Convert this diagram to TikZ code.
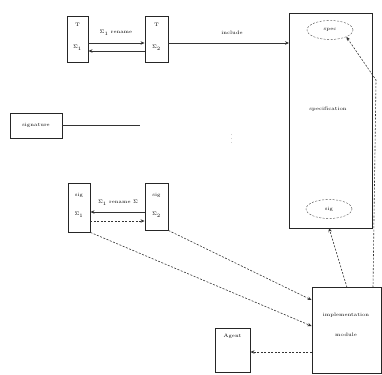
\documentclass[tikz,border=0pt]{standalone}
\usepackage{amsmath,amssymb}
\usepackage{tikz}
\usetikzlibrary{calc}
\usetikzlibrary{positioning, shapes.geometric, fit}
\usetikzlibrary{arrows.meta}

\begin{document}
\begin{tikzpicture}[x=1pt, y=-1pt,
    % Define styles for the boxes and their texts
    modbox/.style={rectangle, draw=black!85, line width=0.9pt, inner sep=0pt},
    lbl/.style={font=\tiny, inner sep=1pt},
    specell/.style={ellipse, draw=black!70, dash pattern=on 2pt off 1.5pt, minimum width=46pt, minimum height=19pt, inner sep=0pt, font=\tiny},
    % Define edge styles
    edge/.style={draw=black!80, line width=0.6pt, -{Stealth[length=4pt, width=3.5pt]}},
    dedge/.style={edge, dash pattern=on 2pt off 1.5pt}
]

    % --- Canvas ---
    \useasboundingbox (0,0) rectangle (382,374);

    % ================= TOP ROW =================
    \node[modbox, minimum width=21pt, minimum height=46pt] (A) at (77.5, 39) {};
    \node[lbl] (A_t) at (77.5, 25) {T};
    \node[lbl] (A_s) at (77.5, 48) {$\Sigma_1$};

    \node[modbox, minimum width=23pt, minimum height=46pt] (B) at (156.5, 39) {};
    \node[lbl] (B_t) at (156.5, 25) {T};
    \node[lbl] (B_s) at (156.5, 48) {$\Sigma_2$};

    % --- Big specification box ---
    \node[modbox, minimum width=83pt, minimum height=215pt] (C) at (331, 120.5) {};
    \node[specell] (C_top) at (330, 30) {spec};
    \node[lbl] (C_mid) at (328, 109) {specification};
    \node[specell] (C_bot) at (329, 209) {sig};

    % --- Connections of the top row ---
    \draw[edge] (A.east |- 0,43) -- (B.west |- 0,43);
    \draw[edge] (B.west |- 0,51) -- (A.east |- 0,51);
    \node[lbl] (AB_l) at (116, 33) {$\Sigma_1$ rename};
    \draw[edge, line width=0.9pt] (B.east |- 0,43) -- (C.west |- 0,43);
    \node[lbl] (BC_l) at (232, 33) {include};

    % ================= LEFT SIGNATURE =================
    \node[modbox, minimum width=52pt, minimum height=25pt, font=\tiny] (D) at (36, 125.5) {signature};
    \coordinate (D_end) at (140, 125.5);
    \draw[draw=black!80, line width=0.9pt] (D) -- (D_end);
    \node[lbl] (dots) at (232, 136) {$\vdots$};

    % ================= LOWER ROW =================
    \node[modbox, minimum width=22pt, minimum height=49pt] (E) at (79, 207.5) {};
    \node[lbl] (E_t) at (79, 195) {sig};
    \node[lbl] (E_s) at (79, 215) {$\Sigma_1$};

    \node[modbox, minimum width=23pt, minimum height=47pt] (F) at (156.5, 206.5) {};
    \node[lbl] (F_t) at (156.5, 195) {sig};
    \node[lbl] (F_s) at (156.5, 215) {$\Sigma_2$};

    \draw[edge] (F.west |- 0,212) -- (E.east |- 0,212);
    \draw[dedge] (E.east |- 0,221) -- (F.west |- 0,221);
    \node[lbl] (EF_l) at (118, 203) {$\Sigma_1$ rename $\Sigma$};

    % --- Implementation box and agent ---
    \node[modbox, minimum width=69pt, minimum height=86pt] (G) at (346.5, 330.5) {};
    \node[lbl] (G_1) at (346, 315) {implementation};
    \node[lbl] (G_2) at (346, 335) {module};

    \node[modbox, minimum width=35pt, minimum height=44pt] (H) at (232.5, 350) {};
    \node[lbl] (H_t) at (232.5, 336) {Agent};

    % --- Helper points on the box borders ---
    \coordinate (G_up) at (347, 287.5);
    \coordinate (G_ur) at (373, 287.5);
    \coordinate (C_dn) at (329, 228);
    \coordinate (bend) at (376, 80);

    % --- Connect lower part ---
    \draw[dedge] (E.south east) -- (G.west |- 0,326);
    \draw[dedge] (F.south east) -- (G.west |- 0,300);
    \draw[dedge] (G_up) -- (C_dn);
    \draw[dedge] (G_ur) -- (bend) -- (C_top.south east);
    \draw[dedge] (G.west |- 0,352) -- (H.east |- 0,352);

\end{tikzpicture}
\end{document}
